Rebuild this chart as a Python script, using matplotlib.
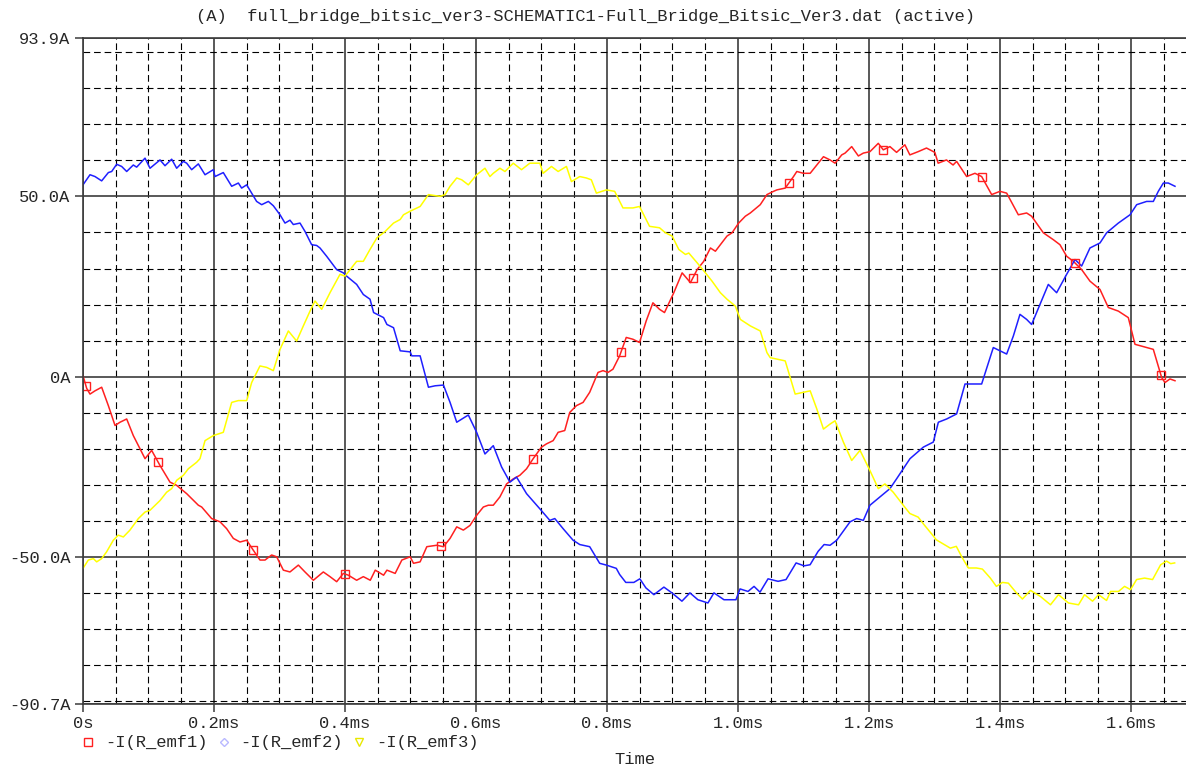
import matplotlib
matplotlib.use("Agg")
import matplotlib.pyplot as plt
import numpy as np
from matplotlib.lines import Line2D

# Time axis in ms, currents in A
emf1_t = [0, 0.0056, 0.0107, 0.0183, 0.0285, 0.0387, 0.0489, 0.0565, 0.0667, 0.0768, 0.0947, 0.1048,
          0.1176, 0.1328, 0.143, 0.1583, 0.1761, 0.1812, 0.1964, 0.2092, 0.2193, 0.2295, 0.2397, 0.2499,
          0.2601, 0.2702, 0.2779, 0.288, 0.2957, 0.3059, 0.316, 0.3288, 0.3389, 0.3517, 0.3669, 0.3771,
          0.3873, 0.3975, 0.4051, 0.4178, 0.428, 0.4386, 0.4462, 0.4589, 0.464, 0.4766, 0.4868, 0.4995,
          0.5046, 0.5147, 0.5249, 0.5401, 0.5503, 0.5604, 0.5706, 0.5807, 0.5909, 0.601, 0.6112, 0.6188,
          0.6264, 0.6365, 0.6467, 0.6569, 0.667, 0.6772, 0.6873, 0.7, 0.7076, 0.7178, 0.7254, 0.7355,
          0.7431, 0.7533, 0.7635, 0.7736, 0.7863, 0.7939, 0.8015, 0.8091, 0.8193, 0.8294, 0.8396, 0.8497,
          0.8599, 0.8701, 0.8802, 0.8878, 0.902, 0.9147, 0.9274, 0.9376, 0.9477, 0.9579, 0.9655, 0.9731,
          0.9832, 0.9909, 1.001, 1.0112, 1.0188, 1.034, 1.0442, 1.0543, 1.0594, 1.0721, 1.0848, 1.0898,
          1.1, 1.1102, 1.1203, 1.1305, 1.1406, 1.1482, 1.1584, 1.1635, 1.1736, 1.1838, 1.1914, 1.2015,
          1.2142, 1.2218, 1.232, 1.2421, 1.2548, 1.2624, 1.2751, 1.2878, 1.3005, 1.3056, 1.3183, 1.3284,
          1.3338, 1.3491, 1.3618, 1.372, 1.3873, 1.4, 1.4102, 1.428, 1.4407, 1.4483, 1.4662, 1.4814,
          1.4916, 1.5018, 1.512, 1.5247, 1.5374, 1.5527, 1.5654, 1.5807, 1.5959, 1.6061, 1.6239, 1.6341,
          1.6468, 1.6519, 1.6595, 1.6672]
emf1_i = [0.3, -3.2, -4.8, -3.9, -2.9, -8.0, -13.5, -12.6, -11.7, -16.3, -22.7, -20.4,
          -24.6, -29.2, -30.1, -32.4, -35.6, -36.1, -39.3, -40.2, -42.1, -44.8, -45.8, -45.3,
          -48.1, -50.8, -50.8, -49.4, -49.9, -53.6, -54.1, -52.2, -54.1, -56.4, -54.1, -55.4,
          -56.8, -54.5, -55.0, -56.4, -55.4, -56.4, -53.6, -55.0, -53.6, -54.5, -50.8, -49.9,
          -51.7, -51.3, -47.1, -46.7, -47.1, -44.8, -41.6, -42.5, -41.2, -38.4, -36.1, -35.6,
          -35.6, -33.3, -29.7, -28.3, -27.3, -25.5, -22.7, -19.5, -18.6, -17.7, -15.4, -14.9,
          -9.9, -8.0, -7.1, -4.3, 1.2, 1.7, 1.2, 2.1, 5.8, 10.9, 10.4, 9.5,
          15.5, 20.5, 18.7, 17.8, 23.3, 28.8, 26.1, 29.7, 32.0, 35.7, 34.8, 36.6,
          39.0, 39.9, 42.6, 44.5, 45.4, 47.7, 50.5, 51.4, 51.8, 52.3, 55.5, 56.9,
          56.4, 56.4, 58.7, 61.0, 60.1, 59.2, 61.5, 62.0, 63.8, 61.2, 62.0, 62.4,
          64.7, 62.9, 63.8, 62.2, 64.3, 61.5, 62.4, 63.4, 62.2, 59.2, 60.1, 58.7,
          59.7, 55.5, 56.4, 55.5, 50.5, 51.4, 50.9, 44.9, 45.4, 44.5, 39.9, 38.0,
          36.6, 33.4, 32.0, 29.7, 26.5, 24.2, 19.2, 18.2, 16.4, 9.0, 8.1, 7.6,
          -0.2, -1.6, -0.6, -1.1]

emf2_t = [0, 0.0107, 0.0183, 0.0285, 0.0387, 0.0438, 0.0514, 0.059, 0.0667, 0.0768, 0.0819, 0.0947,
          0.1023, 0.1176, 0.1252, 0.1354, 0.143, 0.1532, 0.1583, 0.1659, 0.1761, 0.1863, 0.199, 0.2015,
          0.2142, 0.227, 0.2372, 0.2422, 0.2499, 0.2651, 0.2728, 0.283, 0.2906, 0.3008, 0.3084, 0.316,
          0.3211, 0.3313, 0.3389, 0.3491, 0.3567, 0.3618, 0.372, 0.3873, 0.3975, 0.4025, 0.4178, 0.428,
          0.4382, 0.4437, 0.4589, 0.464, 0.4741, 0.4843, 0.4995, 0.502, 0.5147, 0.5274, 0.5376, 0.5503,
          0.5604, 0.5706, 0.5883, 0.601, 0.6137, 0.6264, 0.6391, 0.6518, 0.6619, 0.6772, 0.6975, 0.7127,
          0.7203, 0.733, 0.7482, 0.7584, 0.7736, 0.7888, 0.799, 0.8142, 0.8193, 0.8287, 0.841, 0.8502,
          0.8593, 0.8716, 0.8869, 0.8991, 0.9144, 0.9266, 0.9388, 0.9541, 0.9633, 0.9786, 0.9969, 1.0031,
          1.0153, 1.0245, 1.0336, 1.0459, 1.0612, 1.0734, 1.0887, 1.1009, 1.1101, 1.1223, 1.1315, 1.1406,
          1.1508, 1.1711, 1.1812, 1.1914, 1.2015, 1.2168, 1.232, 1.2421, 1.2626, 1.283, 1.2982, 1.3059,
          1.3186, 1.3338, 1.3466, 1.3593, 1.372, 1.3898, 1.4, 1.4102, 1.4204, 1.4305, 1.4407, 1.4483,
          1.4611, 1.4738, 1.4865, 1.5018, 1.5145, 1.5247, 1.5374, 1.5527, 1.5628, 1.5807, 1.5985, 1.6087,
          1.6239, 1.6341, 1.6417, 1.6494, 1.657, 1.6672]
emf2_i = [53.2, 56.0, 55.5, 54.3, 56.6, 56.9, 58.9, 58.3, 56.9, 58.7, 58.1, 60.6,
          57.8, 60.1, 58.5, 60.3, 57.8, 59.7, 59.2, 57.4, 59.0, 56.0, 57.4, 55.5,
          56.6, 52.8, 53.7, 52.3, 53.2, 48.6, 47.7, 48.6, 47.4, 44.9, 42.6, 43.4,
          42.2, 42.6, 40.3, 36.6, 36.4, 35.7, 33.4, 29.7, 28.8, 27.9, 25.6, 22.8,
          21.5, 17.8, 16.4, 14.5, 13.6, 7.2, 6.9, 5.8, 5.8, -2.9, -2.5, -2.3,
          -7.1, -12.6, -10.6, -15.4, -21.4, -19.1, -25.0, -29.2, -27.8, -32.4, -36.6, -39.8,
          -39.3, -42.1, -45.3, -46.5, -47.1, -51.7, -52.2, -53.1, -54.8, -57.0, -57.0, -56.0,
          -58.5, -60.4, -58.3, -59.9, -62.2, -59.9, -61.8, -62.7, -59.9, -61.8, -61.8, -58.8,
          -59.5, -58.1, -59.7, -56.0, -56.7, -56.2, -51.6, -52.4, -52.1, -48.4, -46.5, -46.7,
          -45.3, -40.2, -39.3, -39.8, -35.6, -33.3, -31.0, -28.3, -22.7, -19.5, -18.1, -12.6,
          -11.7, -10.3, -2.0, -2.0, -2.0, 8.1, 7.2, 6.3, 11.3, 17.3, 15.9, 14.5,
          20.1, 25.6, 23.3, 28.4, 32.5, 30.7, 35.7, 37.1, 39.9, 42.6, 44.9, 47.7,
          48.6, 48.6, 51.4, 53.7, 53.7, 52.8]

emf3_t = [0, 0.0081, 0.0158, 0.0209, 0.0285, 0.0361, 0.0463, 0.0539, 0.0616, 0.0717, 0.0845, 0.0947,
          0.1023, 0.1176, 0.1277, 0.1354, 0.143, 0.1532, 0.1608, 0.1735, 0.1786, 0.1863, 0.199, 0.2142,
          0.227, 0.2372, 0.2499, 0.2575, 0.2702, 0.2804, 0.2906, 0.3008, 0.3135, 0.3262, 0.3364, 0.3466,
          0.3542, 0.3644, 0.3771, 0.3924, 0.4, 0.4178, 0.428, 0.4382, 0.4487, 0.4614, 0.4741, 0.4843,
          0.4893, 0.4995, 0.5147, 0.5274, 0.5452, 0.5528, 0.5604, 0.5706, 0.5782, 0.5883, 0.601, 0.6137,
          0.6213, 0.6264, 0.6365, 0.6442, 0.6569, 0.6695, 0.6822, 0.6975, 0.7025, 0.7152, 0.7254, 0.7381,
          0.7457, 0.7584, 0.7685, 0.7761, 0.7838, 0.799, 0.8117, 0.8244, 0.8396, 0.8497, 0.865, 0.8802,
          0.8893, 0.8995, 0.9096, 0.9198, 0.9249, 0.9376, 0.9503, 0.9604, 0.9731, 0.9832, 0.9959, 1.0036,
          1.0188, 1.034, 1.0442, 1.0492, 1.0594, 1.0721, 1.0873, 1.1, 1.1102, 1.1203, 1.1305, 1.1406,
          1.1482, 1.1609, 1.1736, 1.1863, 1.2015, 1.2142, 1.2244, 1.237, 1.2523, 1.2624, 1.2751, 1.2827,
          1.2954, 1.3028, 1.3242, 1.3333, 1.3425, 1.3517, 1.3639, 1.3731, 1.3853, 1.3945, 1.4037, 1.4128,
          1.4251, 1.4343, 1.4465, 1.4618, 1.4771, 1.4893, 1.5046, 1.5199, 1.5291, 1.5413, 1.5505, 1.5627,
          1.5688, 1.581, 1.5902, 1.5994, 1.6086, 1.6208, 1.633, 1.6453, 1.6544, 1.6606, 1.6667]
emf3_i = [-53.1, -50.8, -50.4, -51.3, -50.4, -48.5, -45.3, -43.9, -44.4, -42.5, -39.3, -37.5,
          -37.0, -34.3, -32.0, -31.0, -28.7, -27.3, -25.5, -23.7, -22.7, -17.7, -16.3, -15.4,
          -7.1, -6.6, -6.6, -1.6, 3.0, 2.6, 1.7, 7.6, 12.7, 9.9, 14.1, 18.2,
          21.0, 18.7, 23.3, 28.4, 27.9, 32.0, 32.0, 35.3, 38.5, 40.3, 42.6, 43.6,
          44.9, 45.9, 47.2, 50.5, 50.0, 50.5, 52.8, 55.1, 54.6, 53.2, 56.0, 57.8,
          55.5, 56.4, 57.8, 56.9, 59.2, 57.4, 59.2, 59.2, 56.4, 58.3, 56.9, 58.3,
          54.1, 55.5, 55.1, 54.6, 50.9, 51.8, 51.4, 46.8, 46.8, 47.2, 41.7, 41.3,
          39.9, 39.0, 35.3, 33.9, 34.3, 31.6, 28.8, 26.5, 23.3, 21.5, 19.6, 15.9,
          14.1, 12.7, 6.7, 5.3, 4.9, 4.4, -4.8, -4.3, -3.9, -8.9, -14.5, -13.1,
          -12.2, -18.1, -23.2, -20.4, -26.0, -31.0, -29.7, -32.0, -35.6, -37.9, -38.9, -40.7,
          -43.5, -45.2, -47.5, -47.0, -50.2, -53.0, -53.0, -53.3, -55.8, -58.1, -57.0, -57.2,
          -59.9, -61.6, -59.2, -60.9, -63.2, -60.4, -62.7, -63.2, -60.4, -62.2, -60.4, -62.0,
          -59.5, -59.5, -58.1, -59.0, -56.2, -55.8, -56.2, -52.1, -51.1, -51.8, -51.6]

# Times where the probe marks the first trace
emf1_marker_t = [0.0046, 0.1145, 0.2595, 0.4, 0.5466, 0.687, 0.8214, 0.9313,
                 1.0779, 1.2214, 1.3725, 1.5145, 1.6458]

y_ticks = [-90.7, -50.0, 0.0, 50.0, 93.9]
y_tick_labels = ["-90.7A", "-50.0A", "0A", "50.0A", "93.9A"]
x_ticks = [0, 0.2, 0.4, 0.6, 0.8, 1.0, 1.2, 1.4, 1.6]
x_tick_labels = ["0s", "0.2ms", "0.4ms", "0.6ms", "0.8ms", "1.0ms", "1.2ms", "1.4ms", "1.6ms"]

title = "(A)  full_bridge_bitsic_ver3-SCHEMATIC1-Full_Bridge_Bitsic_Ver3.dat (active)"
names = ["-I(R_emf1)", "-I(R_emf2)", "-I(R_emf3)"]

RED = "#ff2020"
BLUE = "#1f1fff"
YELLOW = "#ffff00"
TXT = "#262626"
FONT = "Liberation Mono"
FS = 12.3

fig = plt.figure(figsize=(11.86, 7.70), dpi=100)
ax = fig.add_axes([83 / 1186, 1 - 704 / 770, 1 - 83 / 1186, (704 - 38) / 770])

ax.set_xlim(0, 1.684)
ax.set_ylim(-90.7, 93.9)

# solid grid at labelled ticks, dashed grid at 0.05ms / 10A
ax.set_xticks(x_ticks)
ax.set_xticklabels(x_tick_labels)
ax.set_yticks(y_ticks)
ax.set_yticklabels(y_tick_labels)
ax.set_xticks([v for v in np.arange(0.05, 1.684, 0.05) if abs(v / 0.2 - round(v / 0.2)) > 1e-6], minor=True)
ax.set_yticks([v for v in np.arange(-90, 91, 10) if v % 50 != 0], minor=True)

ax.grid(True, which="major", color="#3c3c3c", linewidth=1.2, linestyle="-")
ax.grid(True, which="minor", color="black", linewidth=0.8, linestyle=(0, (6, 3.5)))
ax.set_axisbelow(True)

for side in ["left", "top", "bottom"]:
    ax.spines[side].set_color("#3c3c3c")
    ax.spines[side].set_linewidth(1.2)
ax.spines["right"].set_visible(False)

ax.tick_params(which="major", direction="out", length=6, width=1.1, color="#3c3c3c",
               labelcolor=TXT, labelsize=FS, pad=3)
ax.tick_params(which="minor", length=0)
for lab in ax.get_xticklabels() + ax.get_yticklabels():
    lab.set_fontfamily(FONT)

ax.plot(emf1_t, emf1_i, color=RED, linewidth=1.1)
ax.plot(emf2_t, emf2_i, color=BLUE, linewidth=1.1)
ax.plot(emf3_t, emf3_i, color=YELLOW, linewidth=1.1)
ax.plot(emf1_marker_t, np.interp(emf1_marker_t, emf1_t, emf1_i), linestyle="none",
        marker="s", markersize=5.5, markerfacecolor="none", markeredgecolor=RED, markeredgewidth=1.0)

fig.text(586 / 1186, 1 - 17 / 770, title, ha="center", va="center",
         fontsize=FS, family=FONT, color=TXT)
fig.text(635 / 1186, 1 - 760 / 770, "Time", ha="center", va="center",
         fontsize=FS, family=FONT, color=TXT)

# legend row under the axis
legend_y = 1 - 742 / 770
legend_items = [
    (88, 105, "s", RED, names[0], 5.5),
    (224, 240, "D", "#b8b8ff", names[1], 4.5),
    (359, 376, "v", "#e8e800", names[2], 5.5),
]
for mx, tx, mk, col, name, ms in legend_items:
    fig.add_artist(Line2D([mx / 1186], [legend_y], transform=fig.transFigure, linestyle="none",
                          marker=mk, markersize=ms, markerfacecolor="none",
                          markeredgecolor=col, markeredgewidth=1.0))
    fig.text(tx / 1186, legend_y, name, ha="left", va="center",
             fontsize=FS, family=FONT, color=TXT)

fig.savefig("out.png", dpi=100)
